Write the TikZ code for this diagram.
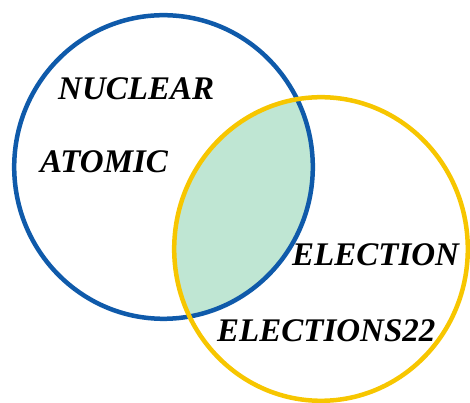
\documentclass[tikz,border=0pt]{standalone}
\usepackage{fontspec}
\usetikzlibrary{shapes.geometric}
\setmainfont{Liberation Serif}
\definecolor{vblue}{HTML}{0F5AAA}
\definecolor{vyellow}{HTML}{F7C600}
\definecolor{vmint}{HTML}{BFE6D3}
\begin{document}
\begin{tikzpicture}[x=1pt,y=1pt,
  lbl/.style={anchor=base west,inner sep=0pt,font=\fontsize{33}{33}\selectfont\bfseries\itshape},
  ring/.style={ellipse,inner sep=0pt,line width=4.5pt}]
\useasboundingbox (0,0) rectangle (470,403);
\coordinate (cb) at (163.5,236);
\coordinate (cy) at (321,154);
\begin{scope}
  \clip (cb) ellipse [x radius=149.3, y radius=151.8];
  \fill[vmint] (cy) ellipse [x radius=146.8, y radius=151.8];
\end{scope}
\node[ring,draw=vblue,minimum width=298.6pt,minimum height=303.6pt] (blue) at (cb) {};
\node[ring,draw=vyellow,minimum width=293.6pt,minimum height=303.6pt] (yellow) at (cy) {};
\node[lbl] (nuclear) at (58,303) {NUCLEAR};
\node[lbl] (atomic) at (40,230) {ATOMIC};
\node[lbl] (election) at (292,137) {ELECTION};
\node[lbl] (elections) at (217,61) {ELECTIONS22};
\end{tikzpicture}
\end{document}
